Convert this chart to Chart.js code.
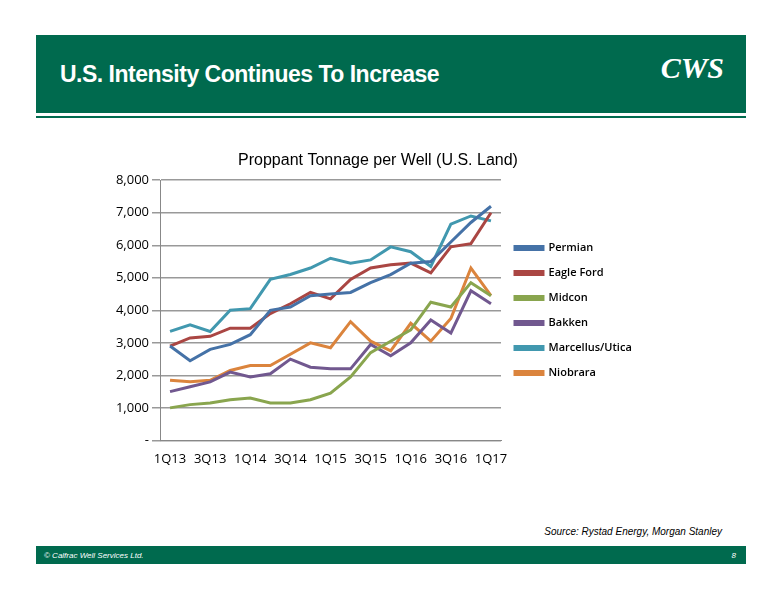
<!DOCTYPE html>
<html>
<head>
<meta charset="utf-8">
<script src="https://cdn.jsdelivr.net/npm/chart.js@4"></script>
<style>
  body { margin: 0; width: 776px; height: 600px; background: #fff; position: relative; font-family: "Liberation Sans", Arial, sans-serif; overflow: hidden; }
  .header { position: absolute; left: 36px; top: 35px; width: 710px; height: 78px; background: #006a4e; }
  .header h1 { position: absolute; left: 24px; top: 26px; margin: 0; color: #fff; font-size: 23px; font-weight: bold; letter-spacing: -0.5px; }
  .logo { position: absolute; right: 22px; top: 16px; color: #fff; font: italic bold 30px "Liberation Serif", serif; }
  .rule { position: absolute; left: 36px; top: 116px; width: 710px; height: 2px; background: #006a4e; }
  .source { position: absolute; right: 54px; top: 526px; font-size: 10px; font-style: italic; color: #000; }
  .footer { position: absolute; left: 36px; top: 546px; width: 710px; height: 18px; background: #006a4e; color: #fff; font-size: 8px; font-style: italic; }
  .footer span { position: absolute; top: 5px; }
  .wrap { position: absolute; left: 100px; top: 151px; width: 552px; height: 319px; }
</style>
</head>
<body>
<div class="header"><h1>U.S. Intensity Continues To Increase</h1><div class="logo">CWS</div></div>
<div class="rule"></div>
<div class="wrap"><canvas id="chart"></canvas></div>
<div class="source">Source: Rystad Energy, Morgan Stanley</div>
<div class="footer"><span style="left:8px">© Calfrac Well Services Ltd.</span><span style="right:10px">8</span></div>
<script>
const quarters = ["1Q13","2Q13","3Q13","4Q13","1Q14","2Q14","3Q14","4Q14","1Q15","2Q15","3Q15","4Q15","1Q16","2Q16","3Q16","4Q16","1Q17"];
const permian = [2900,2450,2800,2950,3250,4000,4100,4450,4500,4550,4850,5100,5450,5500,6100,6700,7200];
const eagleFord = [2900,3150,3200,3450,3450,3900,4200,4550,4350,4950,5300,5400,5450,5150,5950,6050,7000];
const midcon = [1000,1100,1150,1250,1300,1150,1150,1250,1450,1950,2700,3050,3400,4250,4100,4850,4450];
const bakken = [1500,1650,1800,2100,1950,2050,2500,2250,2200,2200,2950,2600,3000,3700,3300,4600,4200];
const marcellus = [3350,3550,3350,4000,4050,4950,5100,5300,5600,5450,5550,5950,5800,5350,6650,6900,6750];
const niobrara = [1850,1800,1850,2150,2300,2300,2650,3000,2850,3650,3050,2750,3600,3050,3750,5300,4450];

const series = [
  ["Permian", permian, "#4572a7"],
  ["Eagle Ford", eagleFord, "#aa4643"],
  ["Midcon", midcon, "#89a54e"],
  ["Bakken", bakken, "#71588f"],
  ["Marcellus/Utica", marcellus, "#4198af"],
  ["Niobrara", niobrara, "#db843d"],
];

new Chart(document.getElementById("chart"), {
  type: "line",
  data: {
    labels: quarters,
    datasets: series.map(([label, data, color]) => ({
      label, data, borderColor: color, backgroundColor: color,
      borderWidth: 3, pointRadius: 0, tension: 0,
    })),
  },
  options: {
    responsive: true,
    maintainAspectRatio: false,
    animation: false,
    layout: { padding: { right: 0, left: 4 } },
    plugins: {
      title: { display: true, text: "Proppant Tonnage per Well (U.S. Land)", color: "#000", font: { family: "Liberation Sans Narrow, Liberation Sans", size: 16, weight: "normal" }, padding: { top: 0, bottom: 10 } },
      legend: {
        position: "right",
        labels: { color: "#000", boxWidth: 28, boxHeight: 3, padding: 14, font: { family: "Open Sans", size: 11, weight: "600" } },
      },
      tooltip: { enabled: false },
    },
    scales: {
      x: {
        offset: true,
        grid: { display: false },
        border: { color: "#888" },
        ticks: {
          color: "#000", font: { family: "Open Sans", size: 13 }, maxRotation: 0, autoSkip: false,
          callback: function (v, i) { return i % 2 === 0 ? quarters[i] : ""; },
        },
      },
      y: {
        min: 0, max: 8000,
        afterFit: function (scale) { scale.width = 56; },
        grid: { color: "#999", lineWidth: 1.5 },
        border: { color: "#888" },
        ticks: {
          stepSize: 1000, color: "#000", font: { family: "Open Sans", size: 13 },
          callback: function (v) { return v === 0 ? "-" : v.toLocaleString("en-US"); },
        },
      },
    },
  },
  plugins: [{
    id: "legendGap",
    beforeInit(chart) {
      const fit = chart.legend.fit;
      chart.legend.fit = function () { fit.call(this); this.width += 14; };
    },
  }],
});
</script>
</body>
</html>
